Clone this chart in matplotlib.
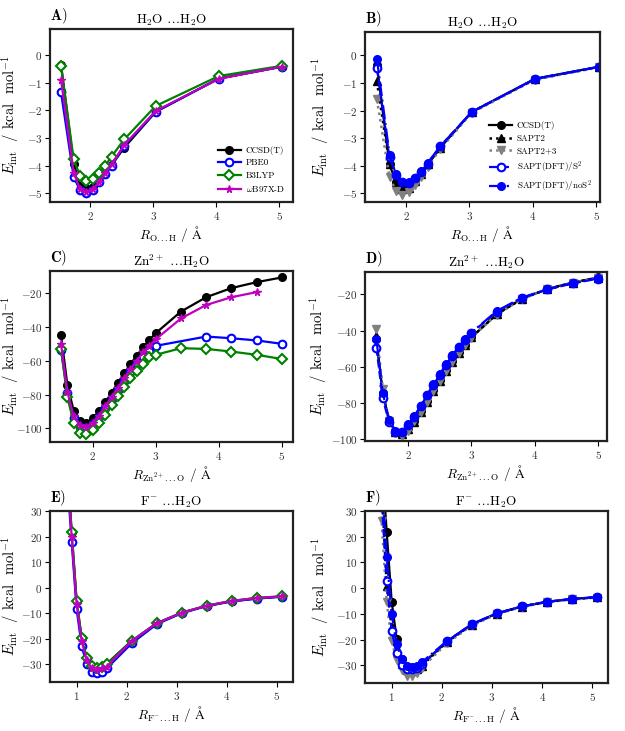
import matplotlib
matplotlib.use("Agg")
import matplotlib.pyplot as plt

plt.rcParams['font.family'] = ['cmr10', 'DejaVu Serif']
plt.rcParams['mathtext.fontset'] = 'cm'
plt.rcParams['axes.formatter.use_mathtext'] = True
plt.rcParams['axes.unicode_minus'] = True

# ---------------- data ----------------
# H2O...H2O
x_w = [1.54, 1.74, 1.84, 1.94, 2.04, 2.14, 2.24, 2.34, 2.54, 3.04, 4.04, 5.04]
w_ccsdt = [-0.35, -3.95, -4.60, -4.82, -4.76, -4.55, -4.30, -3.98, -3.35, -2.05, -0.85, -0.42]
w_pbe0 = [-1.35, -4.40, -4.88, -4.98, -4.88, -4.60, -4.30, -4.00, -3.28, -2.05, -0.85, -0.42]
w_b3lyp = [-0.39, -3.77, -4.36, -4.55, -4.49, -4.28, -4.00, -3.67, -3.05, -1.84, -0.76, -0.39]
w_wb97xd = [-0.90, -4.25, -4.85, -4.95, -4.85, -4.60, -4.28, -3.95, -3.25, -2.02, -0.86, -0.42]
w_sapt2 = [-0.95, -3.95, -4.60, -4.85, -4.80, -4.55, -4.30, -3.95, -3.35, -2.05, -0.87, -0.43]
w_sapt23 = [-1.60, -4.40, -4.90, -5.05, -4.95, -4.70, -4.40, -4.05, -3.40, -2.08, -0.88, -0.44]
w_dft_s2 = [-0.45, -3.70, -4.32, -4.60, -4.62, -4.45, -4.22, -3.92, -3.30, -2.05, -0.86, -0.43]
w_dft_nos2 = [-0.12, -3.60, -4.30, -4.58, -4.60, -4.45, -4.20, -3.90, -3.30, -2.05, -0.85, -0.42]

# Zn2+...H2O
x_zn = [1.5, 1.6, 1.7, 1.8, 1.9, 2.0, 2.1, 2.2, 2.3, 2.4, 2.5, 2.6, 2.7, 2.8, 2.9, 3.0,
        3.4, 3.8, 4.2, 4.6, 5.0]
zn_ccsdt = [-44.7, -74.3, -89.5, -95.7, -96.6, -94.0, -90.0, -84.6, -79.0, -73.0, -67.4,
            -61.9, -57.0, -52.0, -47.7, -43.7, -30.9, -22.4, -17.0, -13.5, -10.7]
x_zn_pbe0 = [1.5, 1.6, 1.7, 1.8, 1.9, 2.0, 2.1, 2.2, 2.3, 2.4, 2.5, 2.6, 2.7, 2.8, 2.9, 3.0,
             3.8, 4.2, 4.6, 5.0]
zn_pbe0 = [-53.6, -79.0, -94.0, -99.0, -100.0, -97.4, -93.5, -88.0, -82.8, -77.3, -71.8,
           -66.4, -61.5, -57.5, -54.2, -51.2, -45.7, -46.7, -48.0, -50.0]
zn_b3lyp = [-53.2, -81.6, -96.6, -102.6, -103.6, -101.0, -97.0, -92.0, -86.4, -80.8, -75.7,
            -70.4, -65.8, -61.7, -58.0, -56.5, -52.6, -53.0, -54.6, -56.5, -59.0]
x_zn_wb = [1.5, 1.6, 1.7, 1.8, 1.9, 2.0, 2.1, 2.2, 2.3, 2.4, 2.5, 2.6, 2.7, 2.8, 2.9, 3.0,
           3.4, 3.8, 4.2, 4.6]
zn_wb97xd = [-50.0, -78.3, -93.0, -98.0, -99.0, -96.6, -92.5, -87.0, -81.6, -76.0, -70.4,
             -65.0, -60.0, -55.0, -51.0, -47.3, -35.0, -27.0, -22.4, -19.4]
zn_sapt2 = [-43.0, -73.5, -89.5, -95.8, -96.8, -94.3, -90.2, -84.8, -79.2, -73.3, -67.6,
            -62.1, -57.1, -52.2, -47.8, -43.8, -31.0, -22.5, -17.1, -13.6, -10.8]
zn_sapt23 = [-39.3, -72.0, -90.0, -96.5, -98.0, -95.5, -90.0, -85.0, -79.5, -73.5, -67.8,
             -62.3, -57.3, -52.4, -48.0, -44.0, -31.2, -22.6, -17.2, -13.7, -10.9]
zn_dft_s2 = [-49.4, -77.4, -90.5, -95.8, -96.0, -92.0, -87.4, -81.7, -75.8, -70.0, -64.4,
             -58.9, -53.8, -49.2, -45.1, -41.4, -29.5, -22.0, -17.3, -14.0, -11.3]
zn_dft_nos2 = [-44.8, -74.3, -89.3, -95.2, -95.8, -91.7, -87.1, -81.4, -75.5, -69.7, -64.1,
               -58.6, -53.5, -48.9, -44.8, -41.1, -29.2, -21.8, -17.2, -13.9, -11.2]

# F-...H2O
x_f = [0.7, 0.8, 0.9, 1.0, 1.1, 1.2, 1.3, 1.4, 1.5, 1.6, 2.1, 2.6, 3.1, 3.6, 4.1, 4.6, 5.1]
f_ccsdt = [150, 52, 21.9, -5.3, -19.7, -27.5, -30.6, -31.5, -30.9, -29.8, -20.8, -14.0,
           -9.8, -7.1, -5.3, -4.2, -3.5]
f_pbe0 = [140, 46, 18.0, -8.5, -22.7, -30.0, -32.9, -33.5, -32.9, -31.6, -21.8, -14.3,
          -10.0, -7.2, -5.4, -4.3, -3.5]
f_b3lyp = [155, 53, 21.9, -5.2, -19.8, -27.4, -30.5, -31.6, -30.9, -30.0, -20.9, -13.9,
           -9.8, -7.0, -5.2, -4.0, -3.4]
f_wb97xd = [148, 50, 20.0, -6.5, -20.9, -28.3, -31.5, -32.3, -31.5, -30.9, -20.9, -13.9,
            -9.8, -7.05, -5.2, -4.0, -3.4]
f_sapt2 = [130, 40, 1.0, -15.0, -24.5, -29.5, -31.8, -32.3, -31.6, -30.2, -21.0, -14.2,
           -9.9, -7.2, -5.4, -4.3, -3.6]
f_sapt23 = [100, 26, -5.5, -20.5, -28.0, -32.0, -34.0, -34.0, -33.0, -31.0, -21.5, -14.5,
            -10.1, -7.3, -5.5, -4.4, -3.7]
f_dft_s2 = [110, 35, 2.6, -16.6, -25.2, -29.8, -31.5, -31.6, -31.0, -29.6, -20.7, -14.0,
            -9.8, -7.1, -5.3, -4.2, -3.5]
f_dft_nos2 = [120, 42, 12.1, -10.1, -21.9, -27.5, -30.2, -30.8, -30.1, -28.8, -20.6, -14.0,
              -9.8, -7.1, -5.3, -4.2, -3.5]

labels_dft = ['CCSD(T)', 'PBE0', 'B3LYP', r'$\omega$B97X-D']
labels_sapt = ['CCSD(T)', 'SAPT2', 'SAPT2+3', r'SAPT(DFT)/S$^2$', r'SAPT(DFT)/noS$^2$']

# ---------------- styles ----------------
MS = 5.5
st_ccsdt = dict(color='k', marker='o', ls='-', lw=1.6, ms=MS, mfc='k', mec='k')
st_pbe0 = dict(color='b', marker='o', ls='-', lw=1.6, ms=MS, mfc='white', mec='b', mew=1.5)
st_b3lyp = dict(color='green', marker='D', ls='-', lw=1.6, ms=MS, mfc='white', mec='green', mew=1.5)
st_wb = dict(color='m', marker='*', ls='-', lw=1.6, ms=MS, mfc='m', mec='m')
st_sapt2 = dict(color='k', marker='^', ls=':', lw=1.8, ms=MS, mfc='k', mec='k')
st_sapt23 = dict(color='gray', marker='v', ls=':', lw=1.8, ms=MS + 0.5, mfc='gray', mec='gray')
st_s2 = dict(color='b', marker='o', ls='--', lw=1.6, ms=MS, mfc='white', mec='b', mew=1.5)
st_nos2 = dict(color='b', marker='o', ls='-.', lw=1.6, ms=MS, mfc='b', mec='b')

fig = plt.figure(figsize=(6.25, 7.31), dpi=100)
W, H = 625.0, 731.0


def mkax(l, r, t, b):
    return fig.add_axes([l / W, 1 - b / H, (r - l) / W, (b - t) / H])


axA = mkax(50, 293, 29, 202)
axB = mkax(365, 600, 32, 202)
axC = mkax(50, 293, 271, 442)
axD = mkax(365, 607, 272, 441)
axE = mkax(50, 293, 511, 682)
axF = mkax(365, 608, 511, 683)

# A
axA.plot(x_w, w_ccsdt, label=labels_dft[0], **st_ccsdt)
axA.plot(x_w, w_pbe0, label=labels_dft[1], **st_pbe0)
axA.plot(x_w, w_b3lyp, label=labels_dft[2], **st_b3lyp)
axA.plot(x_w, w_wb97xd, label=labels_dft[3], **st_wb)
# B
axB.plot(x_w, w_ccsdt, label=labels_sapt[0], **st_ccsdt)
axB.plot(x_w, w_sapt2, label=labels_sapt[1], **st_sapt2)
axB.plot(x_w, w_sapt23, label=labels_sapt[2], **st_sapt23)
axB.plot(x_w, w_dft_s2, label=labels_sapt[3], **st_s2)
axB.plot(x_w, w_dft_nos2, label=labels_sapt[4], **st_nos2)
# C
axC.plot(x_zn, zn_ccsdt, **st_ccsdt)
axC.plot(x_zn_pbe0, zn_pbe0, **st_pbe0)
axC.plot(x_zn, zn_b3lyp, **st_b3lyp)
axC.plot(x_zn_wb, zn_wb97xd, **st_wb)
# D
axD.plot(x_zn, zn_ccsdt, **st_ccsdt)
axD.plot(x_zn, zn_sapt2, **st_sapt2)
axD.plot(x_zn, zn_sapt23, **st_sapt23)
axD.plot(x_zn, zn_dft_s2, **st_s2)
axD.plot(x_zn, zn_dft_nos2, **st_nos2)
# E
axE.plot(x_f, f_ccsdt, **st_ccsdt)
axE.plot(x_f, f_pbe0, **st_pbe0)
axE.plot(x_f, f_b3lyp, **st_b3lyp)
axE.plot(x_f, f_wb97xd, **st_wb)
# F
axF.plot(x_f, f_ccsdt, **st_ccsdt)
axF.plot(x_f, f_sapt2, **st_sapt2)
axF.plot(x_f, f_sapt23, **st_sapt23)
axF.plot(x_f, f_dft_s2, **st_s2)
axF.plot(x_f, f_dft_nos2, **st_nos2)

ylab = r'$E_{\rm int}$  / kcal  mol$^{-1}$'
t_w = r'H$_2$O $\ldots$H$_2$O'
t_zn = r'Zn$^{2+}$ $\ldots$H$_2$O'
t_f = r'F$^{-}$ $\ldots$H$_2$O'
xl_w = r'$R_{\rm O...H}$ / $\rm\AA$'
xl_zn = r'$R_{\rm Zn^{2+}...O}$ / $\rm\AA$'
xl_f = r'$R_{\rm F^{-}...H}$ / $\rm\AA$'

specs = [
    (axA, 'A)', t_w, xl_w, (1.365, 5.215), (-5.31, 0.94), [2, 3, 4, 5], [0, -1, -2, -3, -4, -5], -0.12),
    (axB, 'B)', t_w, xl_w, (1.353, 5.063), (-5.31, 0.84), [2, 3, 4, 5], [0, -1, -2, -3, -4, -5], -0.145),
    (axC, 'C)', t_zn, xl_zn, (1.325, 5.175), (-108.1, -6.9), [2, 3, 4, 5], [-20, -40, -60, -80, -100], -0.12),
    (axD, 'D)', t_zn, xl_zn, (1.32, 5.14), (-100.9, -7.7), [2, 3, 4, 5], [-20, -40, -60, -80, -100], -0.15),
    (axE, 'E)', t_f, xl_f, (0.467, 5.327), (-36.9, 30), [1, 2, 3, 4, 5], [30, 20, 10, 0, -10, -20, -30], -0.12),
    (axF, 'F)', t_f, xl_f, (0.468, 5.312), (-36.9, 30), [1, 2, 3, 4, 5], [30, 20, 10, 0, -10, -20, -30], -0.14),
]

for ax, tag, title, xl, xlim, ylim, xt, yt, ylx in specs:
    ax.set_xlim(*xlim)
    ax.set_ylim(*ylim)
    ax.set_xticks(xt)
    ax.set_yticks(yt)
    ax.set_title(title, fontsize=9.5, pad=4)
    ax.text(0.0, 1.02, r'$\mathbf{' + tag + '}$', transform=ax.transAxes,
            fontsize=10.5, ha='left', va='bottom')
    ax.set_xlabel(xl, fontsize=9.5, labelpad=2)
    ax.set_ylabel(ylab, fontsize=10.5)
    ax.yaxis.set_label_coords(ylx, 0.5)
    ax.tick_params(direction='out', length=3.5, width=0.8, labelsize=8, pad=2,
                   colors='k', labelcolor='#333333')
    for sp in ax.spines.values():
        sp.set_linewidth(1.6)
        sp.set_color('#222222')

axA.legend(loc='lower right', frameon=False, fontsize=6.5, handlelength=2.6,
           labelspacing=0.45, handletextpad=0.5, borderaxespad=0.5)
axB.legend(loc='lower right', frameon=False, fontsize=6.5, handlelength=2.6,
           labelspacing=0.45, handletextpad=0.5, borderaxespad=0.5)

fig.savefig('out.png', dpi=100)
